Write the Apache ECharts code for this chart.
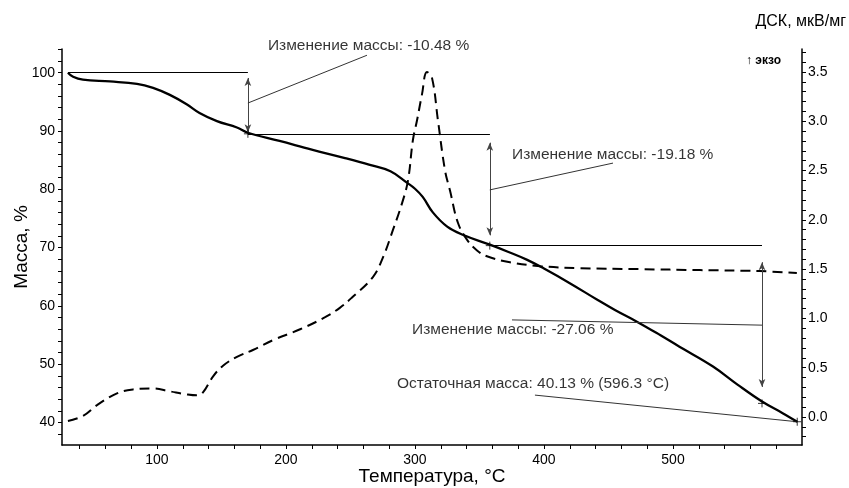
<!DOCTYPE html>
<html><head><meta charset="utf-8">
<script src="https://cdn.jsdelivr.net/npm/echarts@6/dist/echarts.min.js"></script>
<style>html,body{margin:0;padding:0;background:#fff}#c{width:849px;height:488px}</style>
</head><body><div id="c"></div>
<script>
// ---- TG curve (mass, %) ----
const tgTemp = [31, 35, 42.6, 63.6, 84.5, 97, 110, 123, 133, 146.5, 162, 170.5, 195, 220, 245, 265, 281, 294, 300, 306, 314, 325, 337, 358, 372, 387, 400, 420, 441, 455, 472, 490, 505, 531, 550, 569, 585, 596.3];
const tgMass = [100, 99.3, 98.8, 98.5, 98.1, 97.4, 96.2, 94.6, 93.1, 91.7, 90.6, 89.7, 88.3, 86.8, 85.4, 84.2, 83.1, 81.1, 80.1, 78.7, 76.0, 73.6, 72.2, 70.5, 69.3, 67.9, 66.4, 63.9, 61.1, 59.3, 57.3, 55.0, 53.0, 49.6, 46.5, 43.6, 41.6, 40.13];
// ---- DSC curve (mkV/mg) ----
const dscTemp = [31, 42.6, 53.5, 69, 81.4, 97, 110, 123, 131, 135.7, 143.4, 151.2, 162, 174.4, 190, 211, 230, 242, 251, 267.4, 275.2, 283, 290, 294.6, 298.4, 301.6, 305.4, 309.3, 313.2, 317.8, 323.3, 327.1, 333.3, 340.3, 348.1, 355.8, 373.6, 397, 428, 474, 521, 567, 596];
const dscVal = [-0.04, 0.01, 0.12, 0.24, 0.28, 0.29, 0.26, 0.23, 0.22, 0.25, 0.41, 0.52, 0.61, 0.68, 0.78, 0.89, 1.01, 1.11, 1.21, 1.42, 1.62, 1.90, 2.17, 2.40, 2.81, 3.01, 3.27, 3.50, 3.44, 3.01, 2.50, 2.30, 1.97, 1.80, 1.69, 1.63, 1.57, 1.53, 1.51, 1.50, 1.49, 1.48, 1.46];
// ---- tick labels ----
const xLabels = [100, 200, 300, 400, 500];
const xTicks = [40,60,80,100,120,140,160,180,200,220,240,260,280,300,320,340,360,380,400,420,440,460,480,500,520,540,560,580];
const yLeftLabels = [40, 50, 60, 70, 80, 90, 100];
const yLeftTicks = [38,40,42,44,46,48,50,52,54,56,58,60,62,64,66,68,70,72,74,76,78,80,82,84,86,88,90,92,94,96,98,100,102,104];
const yRightLabels = [0, 0.5, 1.0, 1.5, 2.0, 2.5, 3.0, 3.5];
const yRightTicks = [-0.2,-0.1,0,0.1,0.2,0.3,0.4,0.5,0.6,0.7,0.8,0.9,1.0,1.1,1.2,1.3,1.4,1.5,1.6,1.7,1.8,1.9,2.0,2.1,2.2,2.3,2.4,2.5,2.6,2.7,2.8,2.9,3.0,3.1,3.2,3.3,3.4,3.5,3.6,3.7];
// ---- annotations (data coordinates: temperature, mass %) ----
const stepMarks = [[170.5, 89.52], [358, 70.34], [569, 43.28], [596.3, 40.13]];
const levelLines = [[[31, 100], [170.5, 100]], [[170.5, 89.52], [358.1, 89.52]], [[358, 70.34], [569, 70.34]]];
const arrowLines = [[[170.5, 99.1], [170.5, 89.8]], [[358, 88.0], [358, 72.1]], [[569, 67.5], [569, 46.1]]];
const leaderLines = [[[170.5, 94.8], [262.8, 103.0]], [[358, 79.9], [453.5, 84.5]], [[569, 56.7], [375.2, 57.6]], [[596.3, 40.13], [393, 44.7]]];
const annotTexts = ['Изменение массы: -10.48 %', 'Изменение массы: -19.18 %', 'Изменение массы: -27.06 %', 'Остаточная масса: 40.13 % (596.3 °C)'];
const annotPos = [[186, 104.6], [375.2, 85.9], [297.7, 55.9], [286, 46.6]];

const FONT = 'Arial, "Liberation Sans", sans-serif';
const chart = echarts.init(document.getElementById('c'), null, {renderer: 'canvas'});

const segs = (arr) => arr.map(s => [{coord: s[0]}, {coord: s[1]}]);

chart.setOption({
  animation: false,
  backgroundColor: '#fff',
  grid: {left: 62, right: 47, top: 49, bottom: 43, containLabel: false, outerBoundsMode: 'none'},
  xAxis: {
    type: 'value', min: 26.4, max: 600,
    name: 'Температура, °C', nameLocation: 'middle', nameGap: 22, nameMoveOverlap: false,
    nameTextStyle: {fontFamily: FONT, fontSize: 19, color: '#000'},
    axisLine: {show: true, onZero: false, lineStyle: {color: '#000', width: 1.5}},
    axisTick: {show: true, length: 4, customValues: xTicks, lineStyle: {color: '#000'}},
    axisLabel: {customValues: xLabels, fontFamily: FONT, fontSize: 14, color: '#000', margin: 8},
    splitLine: {show: false}
  },
  yAxis: [{
    type: 'value', min: 36.14, max: 104.07, position: 'left',
    name: 'Масса, %', nameLocation: 'middle', nameGap: 31, nameMoveOverlap: false,
    nameTextStyle: {fontFamily: FONT, fontSize: 19, color: '#000'},
    axisLine: {show: true, onZero: false, lineStyle: {color: '#000', width: 1.5}},
    axisTick: {show: true, length: 4, customValues: yLeftTicks, lineStyle: {color: '#000'}},
    axisLabel: {customValues: yLeftLabels, fontFamily: FONT, fontSize: 14, color: '#000', margin: 7},
    splitLine: {show: false}
  }, {
    type: 'value', min: -0.284, max: 3.733, position: 'right',
    axisLine: {show: true, onZero: false, lineStyle: {color: '#000', width: 1.5}},
    axisTick: {show: true, length: 4, customValues: yRightTicks, lineStyle: {color: '#000'}},
    axisLabel: {customValues: yRightLabels, fontFamily: FONT, fontSize: 14, color: '#000', margin: 6,
      formatter: v => v.toFixed(1)},
    splitLine: {show: false}
  }],
  graphic: [
    {type: 'text', right: 3, top: 14, style: {text: 'ДСК, мкВ/мг', font: '16px ' + FONT, fill: '#000'}},
    {type: 'text', left: 746, top: 55, style: {text: '↑ экзо', font: 'bold 12px ' + FONT, fill: '#000'}}
  ],
  series: [
    {
      type: 'line', yAxisIndex: 1, data: dscTemp.map((t, i) => [t, dscVal[i]]),
      showSymbol: false, smooth: 0.4,
      lineStyle: {color: '#000', width: 2, type: [10, 6]}, z: 3
    },
    {
      type: 'line', yAxisIndex: 0, data: tgTemp.map((t, i) => [t, tgMass[i]]),
      showSymbol: false, smooth: 0.4,
      lineStyle: {color: '#000', width: 2.3}, z: 4
    },
    {
      type: 'scatter', yAxisIndex: 0, data: stepMarks,
      symbol: 'path://M0,5L10,5M5,0L5,10', symbolSize: 8,
      itemStyle: {color: 'transparent', borderColor: '#000', borderWidth: 1},
      z: 5, silent: true,
      markLine: {
        silent: true, symbol: 'none', label: {show: false},
        lineStyle: {color: '#000', width: 1, type: 'solid'},
        emphasis: {disabled: true},
        data: segs(levelLines)
      }
    },
    {
      type: 'scatter', yAxisIndex: 0, data: [], silent: true,
      markLine: {
        silent: true, symbol: ['arrow', 'arrow'], symbolSize: [5, 8], label: {show: false},
        lineStyle: {color: '#444', width: 1, type: 'solid'},
        emphasis: {disabled: true},
        data: segs(arrowLines)
      }
    },
    {
      type: 'scatter', yAxisIndex: 0, data: [], silent: true,
      markLine: {
        silent: true, symbol: 'none', label: {show: false},
        lineStyle: {color: '#333', width: 1, type: 'solid'},
        emphasis: {disabled: true},
        data: segs(leaderLines)
      }
    },
    {
      type: 'scatter', yAxisIndex: 0, clip: false, silent: true, symbolSize: 0,
      data: annotPos.map((p, i) => ({value: p, name: annotTexts[i]})),
      label: {show: true, position: 'right', distance: 0, formatter: p => p.name,
        fontFamily: FONT, fontSize: 15.5, color: '#000'},
      z: 6
    }
  ]
});
</script>
</body></html>
